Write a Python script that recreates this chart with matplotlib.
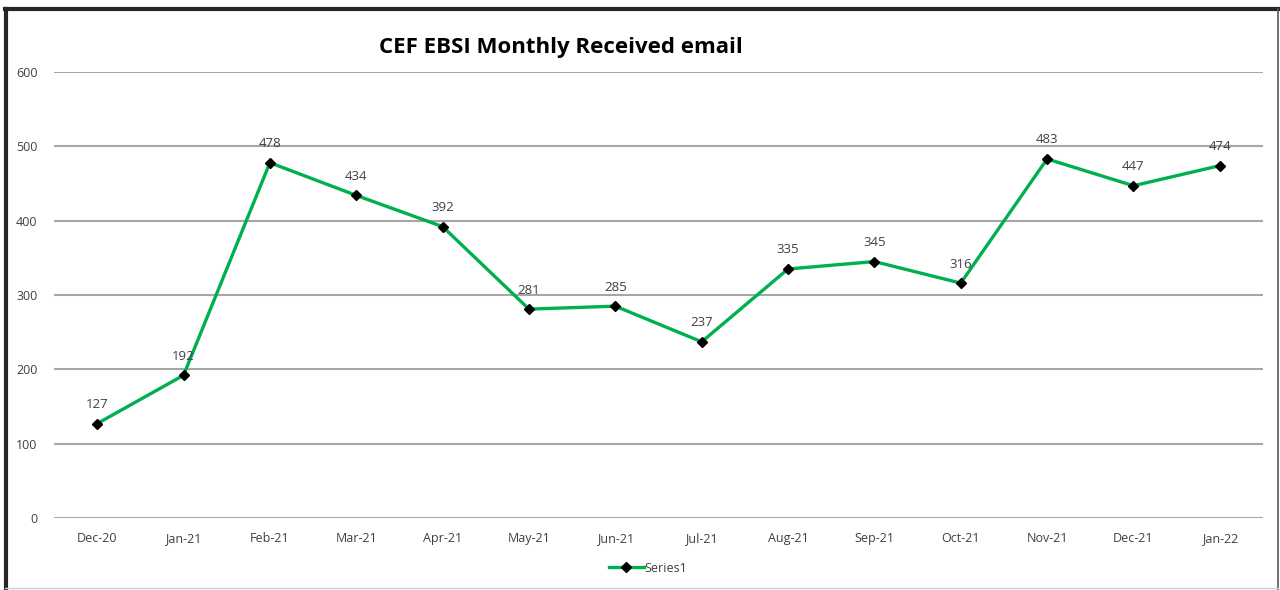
import matplotlib
matplotlib.use("Agg")
import matplotlib.pyplot as plt
from matplotlib.lines import Line2D

categories = ["Dec-20", "Jan-21", "Feb-21", "Mar-21", "Apr-21", "May-21", "Jun-21",
              "Jul-21", "Aug-21", "Sep-21", "Oct-21", "Nov-21", "Dec-21", "Jan-22"]
values = [127, 192, 478, 434, 392, 281, 285, 237, 335, 345, 316, 483, 447, 474]
yticks = [0, 100, 200, 300, 400, 500, 600]
title = "CEF EBSI Monthly Received email"
series_name = "Series1"

plt.rcParams['font.family'] = ['Open Sans', 'DejaVu Sans']

fig = plt.figure(figsize=(12.8, 5.9), dpi=100)
ax = fig.add_axes([54/1280, 1-518/590, (1263-54)/1280, (518-72)/590])

x = list(range(len(categories)))
ax.plot(x, values, color="#00B050", linewidth=2.4, marker="D", markersize=5,
        markerfacecolor="black", markeredgecolor="black", label=series_name, zorder=3)
for xi, v in zip(x, values):
    ax.annotate(str(v), (xi, v), xytext=(0, 9), textcoords="offset points",
                ha="center", va="bottom", fontsize=9.5, color="#404040")

ax.set_xlim(-0.5, len(categories) - 0.5)
ax.set_ylim(0, 600)
ax.set_yticks(yticks)
ax.set_xticks(x)
ax.set_xticklabels(categories)
ax.grid(axis="y", color="#A6A6A6", linewidth=1.5)
ax.set_axisbelow(True)
for s in ax.spines.values():
    s.set_visible(False)
ax.tick_params(axis="both", length=0, labelsize=9, labelcolor="#404040")
ax.tick_params(axis="y", pad=12)
ax.tick_params(axis="x", pad=10)

fig.text(561/1280, 1-47/590, title, ha="center", va="center", fontsize=16,
         fontweight="bold", color="black")

leg = fig.legend(loc="center", bbox_to_anchor=(648/1280, 1-568/590), frameon=False,
                 fontsize=9, handlelength=2.8, handletextpad=0.1, labelcolor="#404040")

# outer border
fig.add_artist(Line2D([5/1280, 1278/1280], [1-9/590, 1-9/590], color="#262626", linewidth=3))
fig.add_artist(Line2D([6/1280, 6/1280], [1-9/590, 0], color="#262626", linewidth=3))
fig.add_artist(Line2D([1278/1280, 1278/1280], [1-9/590, 0], color="#595959", linewidth=1.2))
fig.add_artist(Line2D([5/1280, 1278/1280], [1-588/590, 1-588/590], color="#D0D0D0", linewidth=1))

fig.savefig("out.png", dpi=100)
